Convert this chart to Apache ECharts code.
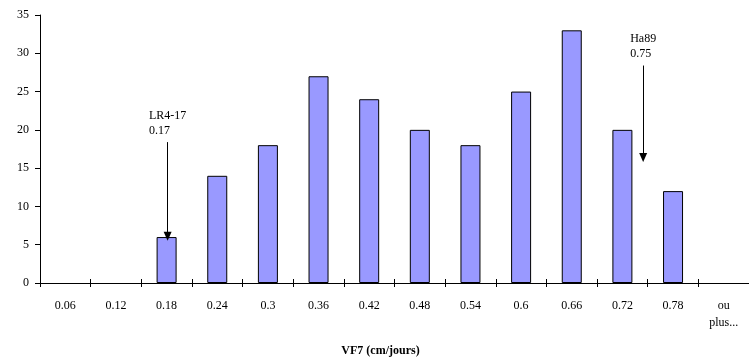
<!DOCTYPE html>
<html><head><meta charset="utf-8">
<script src="https://cdn.jsdelivr.net/npm/echarts@6/dist/echarts.min.js"></script>
<style>html,body{margin:0;padding:0;background:#fff}#c{width:749px;height:363px}</style>
</head><body><div id="c"></div>
<script>
const categories = ['0.06','0.12','0.18','0.24','0.3','0.36','0.42','0.48','0.54','0.6','0.66','0.72','0.78','ou\nplus...'];
const counts = [0,0,6,14,18,27,24,20,18,25,33,20,12,0];
const yTicks = {min:0, max:35, interval:5};
// annotations: name, value, position along category axis (bin units), arrow start/end (count units)
const annNames = ['LR4-17','Ha89'];
const annValues = ['0.17','0.75'];
const annPos = [2.52, 11.91];
const annFrom = [18.4, 28.4];
const annTo = [6.1, 16.4];

const font = 'Liberation Serif, Times New Roman, serif';
const chart = echarts.init(document.getElementById('c'));
chart.setOption({
  animation:false,
  grid:{left:40, top:15, width:713, height:268},
  xAxis:[{
    type:'category', data:categories, gridIndex:0,
    axisLine:{lineStyle:{color:'#000', width:1}},
    axisTick:{show:true, length:4, inside:false, lineStyle:{color:'#000'}},
    axisLabel:{color:'#000', fontFamily:font, fontSize:12, margin:14, lineHeight:17, interval:0},
    name:'VF7 (cm/jours)', nameLocation:'middle', nameGap:62,
    nameTextStyle:{color:'#000', fontFamily:font, fontSize:12, fontWeight:'bold', padding:[0,28,0,0]}
  },{
    type:'category', data:categories, gridIndex:0, position:'bottom',
    axisLine:{show:false},
    axisTick:{show:true, length:4, inside:true, lineStyle:{color:'#000'}},
    axisLabel:{show:false}
  },{
    type:'value', min:0, max:categories.length, show:false, gridIndex:0
  }],
  yAxis:{
    type:'value', min:yTicks.min, max:yTicks.max, interval:yTicks.interval,
    splitLine:{show:false},
    axisLine:{show:true, lineStyle:{color:'#000'}},
    axisTick:{show:true, length:5, lineStyle:{color:'#000'}},
    axisLabel:{color:'#000', fontFamily:font, fontSize:12, margin:11}
  },
  series:[{
    type:'bar', xAxisIndex:0, barWidth:20,
    data:counts.map(v => v === 0 ? {value:v, itemStyle:{borderWidth:0}} : v),
    itemStyle:{color:'#9999FF', borderColor:'#000', borderWidth:1}
  },{
    type:'line', xAxisIndex:2, data:[], symbol:'none',
    markLine:{
      silent:true, symbol:['none','triangle'], symbolSize:[8,9],
      lineStyle:{color:'#000', width:1, type:'solid'},
      label:{show:true, position:'start', color:'#000', fontFamily:font, fontSize:12, lineHeight:15,
             align:'center', distance:4, formatter:p=>'{a|'+p.data.t1+'}\n{a|'+p.data.t2+'}',
             rich:{a:{align:'left', color:'#000', fontFamily:font, fontSize:12, lineHeight:15}}},
      data: annNames.map((n,i)=>[
        {coord:[annPos[i], annFrom[i]], t1:n, t2:annValues[i]},
        {coord:[annPos[i], annTo[i]]}
      ])
    }
  }]
});
</script></body></html>
